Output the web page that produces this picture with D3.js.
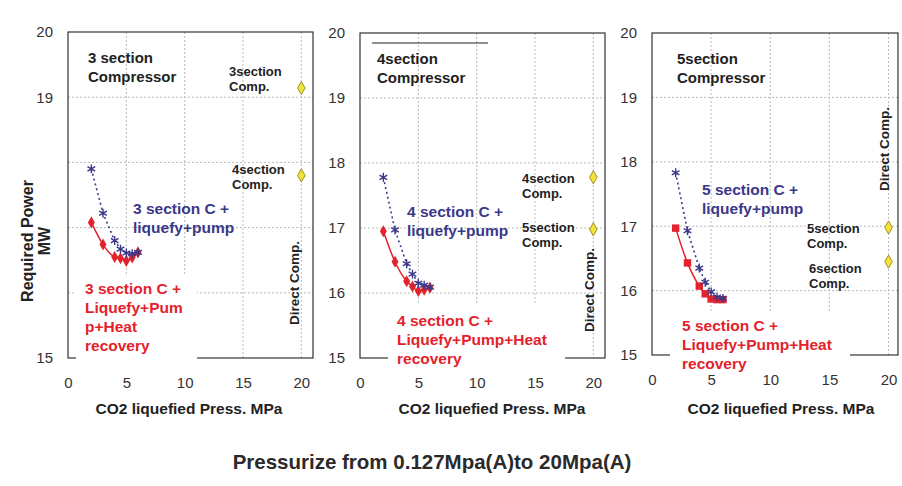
<!DOCTYPE html>
<html>
<head>
<meta charset="utf-8">
<script src="https://cdn.jsdelivr.net/npm/d3@7"></script>
<style>
body { margin: 0; background: #fff; }
svg { display: block; font-family: "Liberation Sans", Arial, sans-serif; }
</style>
</head>
<body>
<div id="chart"></div>
<script>
var width = 902;
var height = 486;

// CO2 liquefied pressure, MPa
var pressures = [2, 3, 4, 4.5, 5, 5.5, 6];

// required power, MW : compressor + liquefy + pump
var pump3 = [17.9, 17.22, 16.8, 16.67, 16.61, 16.6, 16.62];
var pump4 = [17.78, 16.97, 16.45, 16.29, 16.15, 16.12, 16.09];
var pump5 = [17.83, 16.93, 16.35, 16.13, 15.98, 15.9, 15.88];

// compressor + liquefy + pump + heat recovery
var heat3 = [17.08, 16.74, 16.55, 16.53, 16.49, 16.54, 16.62];
var heat4 = [16.95, 16.48, 16.18, 16.1, 16.03, 16.05, 16.08];
var heat5 = [16.97, 16.43, 16.07, 15.95, 15.87, 15.86, 15.86];

// direct compression to 20 MPa
var directPress = 20;
var direct3 = [19.14, 17.8];
var direct4 = [17.78, 16.98];
var direct5 = [16.98, 16.45];

var xTicks = [0, 5, 10, 15, 20];
var yTicks3 = [15, 19, 20];
var yTicks = [15, 16, 17, 18, 19, 20];
var yGrid = [16, 17, 18, 19];
var xGrid = [5, 10, 15, 20];

var blue = "#3b3889";
var red = "#e3222b";

var svg = d3.select("#chart").append("svg")
  .attr("width", width)
  .attr("height", height);

svg.append("rect").attr("width", width).attr("height", height).attr("fill", "#fff");

var panels = [
  {
    left: 68, top: 32, right: 313, bottom: 358, xmax: 21,
    yTicks: yTicks3, pump: pump3, heat: heat3, redSymbol: d3.symbolDiamond,
    direct: direct3,
    title: ["3 section", "Compressor"], titlePos: [20, 31],
    directLabels: [
      {lines: ["3section", "Comp."], dx: 161, dy: 44},
      {lines: ["4section", "Comp."], dx: 164, dy: 142}
    ],
    directText: [295, 283],
    blueLabel: ["3 section C +", "liquefy+pump"], bluePos: [65, 182],
    redLabel: ["3 section C +", "Liquefy+Pum", "p+Heat", "recovery"], redPos: [17, 262],
    whiteBox: [8, 244, 121],
    xTitleX: 189
  },
  {
    left: 360, top: 33, right: 605, bottom: 358, xmax: 21,
    yTicks: yTicks, pump: pump4, heat: heat4, redSymbol: d3.symbolDiamond,
    direct: direct4,
    title: ["4section", "Compressor"], titlePos: [17, 31],
    rule: [12, 10, 128],
    directLabels: [
      {lines: ["4section", "Comp."], dx: 162, dy: 150},
      {lines: ["5section", "Comp."], dx: 162, dy: 199}
    ],
    directText: [590, 290],
    blueLabel: ["4 section C +", "liquefy+pump"], bluePos: [47, 184],
    redLabel: ["4 section C +", "Liquefy+Pump+Heat", "recovery"], redPos: [37, 293],
    whiteBox: [28, 272, 177],
    xTitleX: 492
  },
  {
    left: 652, top: 33, right: 898, bottom: 355, xmax: 20.8,
    yTicks: yTicks, pump: pump5, heat: heat5, redSymbol: d3.symbolSquare,
    direct: direct5,
    title: ["5section", "Compressor"], titlePos: [25, 31],
    directLabels: [
      {lines: ["5section", "Comp."], dx: 155, dy: 200},
      {lines: ["6section", "Comp."], dx: 157, dy: 240}
    ],
    directText: [885, 149],
    blueLabel: ["5 section C +", "liquefy+pump"], bluePos: [50, 162],
    redLabel: ["5 section C +", "Liquefy+Pump+Heat", "recovery"], redPos: [30, 298],
    whiteBox: [18, 278, 180],
    xTitleX: 781
  }
];

panels.forEach(function(p) {
  var x = d3.scaleLinear().domain([0, p.xmax]).range([p.left, p.right]);
  var y = d3.scaleLinear().domain([15, 20]).range([p.bottom, p.top]);
  var g = svg.append("g");

  // dotted grid
  g.selectAll("line.hgrid").data(yGrid).enter().append("line")
    .attr("x1", p.left).attr("x2", p.right)
    .attr("y1", function(d) { return y(d); })
    .attr("y2", function(d) { return y(d); })
    .attr("stroke", "#bbb").attr("stroke-width", 1)
    .attr("stroke-dasharray", "2,2");
  g.selectAll("line.vgrid").data(xGrid).enter().append("line")
    .attr("y1", p.top).attr("y2", p.bottom)
    .attr("x1", function(d) { return x(d); })
    .attr("x2", function(d) { return x(d); })
    .attr("stroke", "#bbb").attr("stroke-width", 1)
    .attr("stroke-dasharray", "2,2");

  // frame
  g.append("rect")
    .attr("x", p.left).attr("y", p.top)
    .attr("width", p.right - p.left).attr("height", p.bottom - p.top)
    .attr("fill", "none").attr("stroke", "#333").attr("stroke-width", 1.2);

  // white box behind the heat recovery label (hides part of frame bottom)
  g.append("rect")
    .attr("x", p.left + p.whiteBox[0]).attr("y", p.top + p.whiteBox[1])
    .attr("width", p.whiteBox[2]).attr("height", p.bottom + 3 - p.top - p.whiteBox[1])
    .attr("fill", "#fff");

  // axes (labels only, no domain line)
  var ya = g.append("g")
    .attr("transform", "translate(" + (p.left - 12) + ",0)")
    .call(d3.axisLeft(y).tickValues(p.yTicks).tickSize(0).tickFormat(d3.format("d")));
  ya.select(".domain").remove();
  ya.selectAll("text").attr("font-size", 15).attr("fill", "#333")
    .attr("font-family", "Liberation Sans, Arial, sans-serif");

  var xa = g.append("g")
    .attr("transform", "translate(0," + (p.bottom + 16) + ")")
    .call(d3.axisBottom(x).tickValues(xTicks).tickSize(0));
  xa.select(".domain").remove();
  xa.selectAll("text").attr("font-size", 15).attr("fill", "#333")
    .attr("font-family", "Liberation Sans, Arial, sans-serif");

  g.append("text")
    .attr("x", p.xTitleX).attr("y", 414)
    .attr("text-anchor", "middle")
    .attr("font-size", 15.5).attr("font-weight", "bold").attr("fill", "#222")
    .text("CO2 liquefied Press. MPa");

  // series
  var rows = pressures.map(function(pr, i) { return {x: pr, pump: p.pump[i], heat: p.heat[i]}; });

  g.append("path").datum(rows)
    .attr("d", d3.line().x(function(d) { return x(d.x); }).y(function(d) { return y(d.pump); }))
    .attr("fill", "none").attr("stroke", blue).attr("stroke-width", 1.6)
    .attr("stroke-dasharray", "2,3");

  g.append("path").datum(rows)
    .attr("d", d3.line().curve(d3.curveMonotoneX).x(function(d) { return x(d.x); }).y(function(d) { return y(d.heat); }))
    .attr("fill", "none").attr("stroke", red).attr("stroke-width", 1.5);

  g.selectAll("path.heatpt").data(rows).enter().append("path")
    .attr("transform", function(d) { return "translate(" + x(d.x) + "," + y(d.heat) + ")"; })
    .attr("d", d3.symbol().type(p.redSymbol).size(p.redSymbol === d3.symbolSquare ? 55 : 42))
    .attr("fill", red);

  g.selectAll("path.pumppt").data(rows).enter().append("path")
    .attr("transform", function(d) { return "translate(" + x(d.x) + "," + y(d.pump) + ")"; })
    .attr("d", d3.symbol().type(d3.symbolAsterisk).size(55))
    .attr("fill", "none").attr("stroke", blue).attr("stroke-width", 1.4);

  // direct compression points
  g.selectAll("path.direct").data(p.direct).enter().append("path")
    .attr("transform", function(d) { return "translate(" + x(directPress) + "," + y(d) + ")"; })
    .attr("d", d3.symbol().type(d3.symbolDiamond).size(50))
    .attr("fill", "#f2e338").attr("stroke", "#8a7a10").attr("stroke-width", 0.8);

  function multiline(lines, x0, y0, size, lh, color) {
    var t = g.append("text")
      .attr("x", x0).attr("y", y0)
      .attr("font-size", size).attr("font-weight", "bold").attr("fill", color);
    lines.forEach(function(l, i) {
      t.append("tspan").attr("x", x0).attr("y", y0 + i * lh).text(l);
    });
  }

  multiline(p.title, p.left + p.titlePos[0], p.top + p.titlePos[1], 15, 19, "#222");
  if (p.rule) {
    g.append("line")
      .attr("x1", p.left + p.rule[0]).attr("x2", p.left + p.rule[2])
      .attr("y1", p.top + p.rule[1]).attr("y2", p.top + p.rule[1])
      .attr("stroke", "#222").attr("stroke-width", 1.2);
  }
  p.directLabels.forEach(function(d) {
    multiline(d.lines, p.left + d.dx, p.top + d.dy, 13, 15, "#222");
  });
  multiline(p.blueLabel, p.left + p.bluePos[0], p.top + p.bluePos[1], 15.5, 19, blue);
  multiline(p.redLabel, p.left + p.redPos[0], p.top + p.redPos[1], 15.5, 19, red);

  g.append("text")
    .attr("transform", "translate(" + (p.directText[0] + 4) + "," + p.directText[1] + ") rotate(-90)")
    .attr("text-anchor", "middle")
    .attr("font-size", 13.5).attr("font-weight", "bold").attr("fill", "#222")
    .text("Direct Comp.");
});

// shared y axis title
svg.append("text")
  .attr("transform", "translate(33,241) rotate(-90)")
  .attr("text-anchor", "middle")
  .attr("font-size", 16).attr("font-weight", "bold").attr("fill", "#222")
  .text("Required Power");
svg.append("text")
  .attr("transform", "translate(50,241) rotate(-90)")
  .attr("text-anchor", "middle")
  .attr("font-size", 16).attr("font-weight", "bold").attr("fill", "#222")
  .text("MW");

svg.append("text")
  .attr("x", 432).attr("y", 469)
  .attr("text-anchor", "middle")
  .attr("font-size", 20.5).attr("font-weight", "bold").attr("fill", "#2a2a2a")
  .text("Pressurize from 0.127Mpa(A)to 20Mpa(A)");
</script>
</body>
</html>
